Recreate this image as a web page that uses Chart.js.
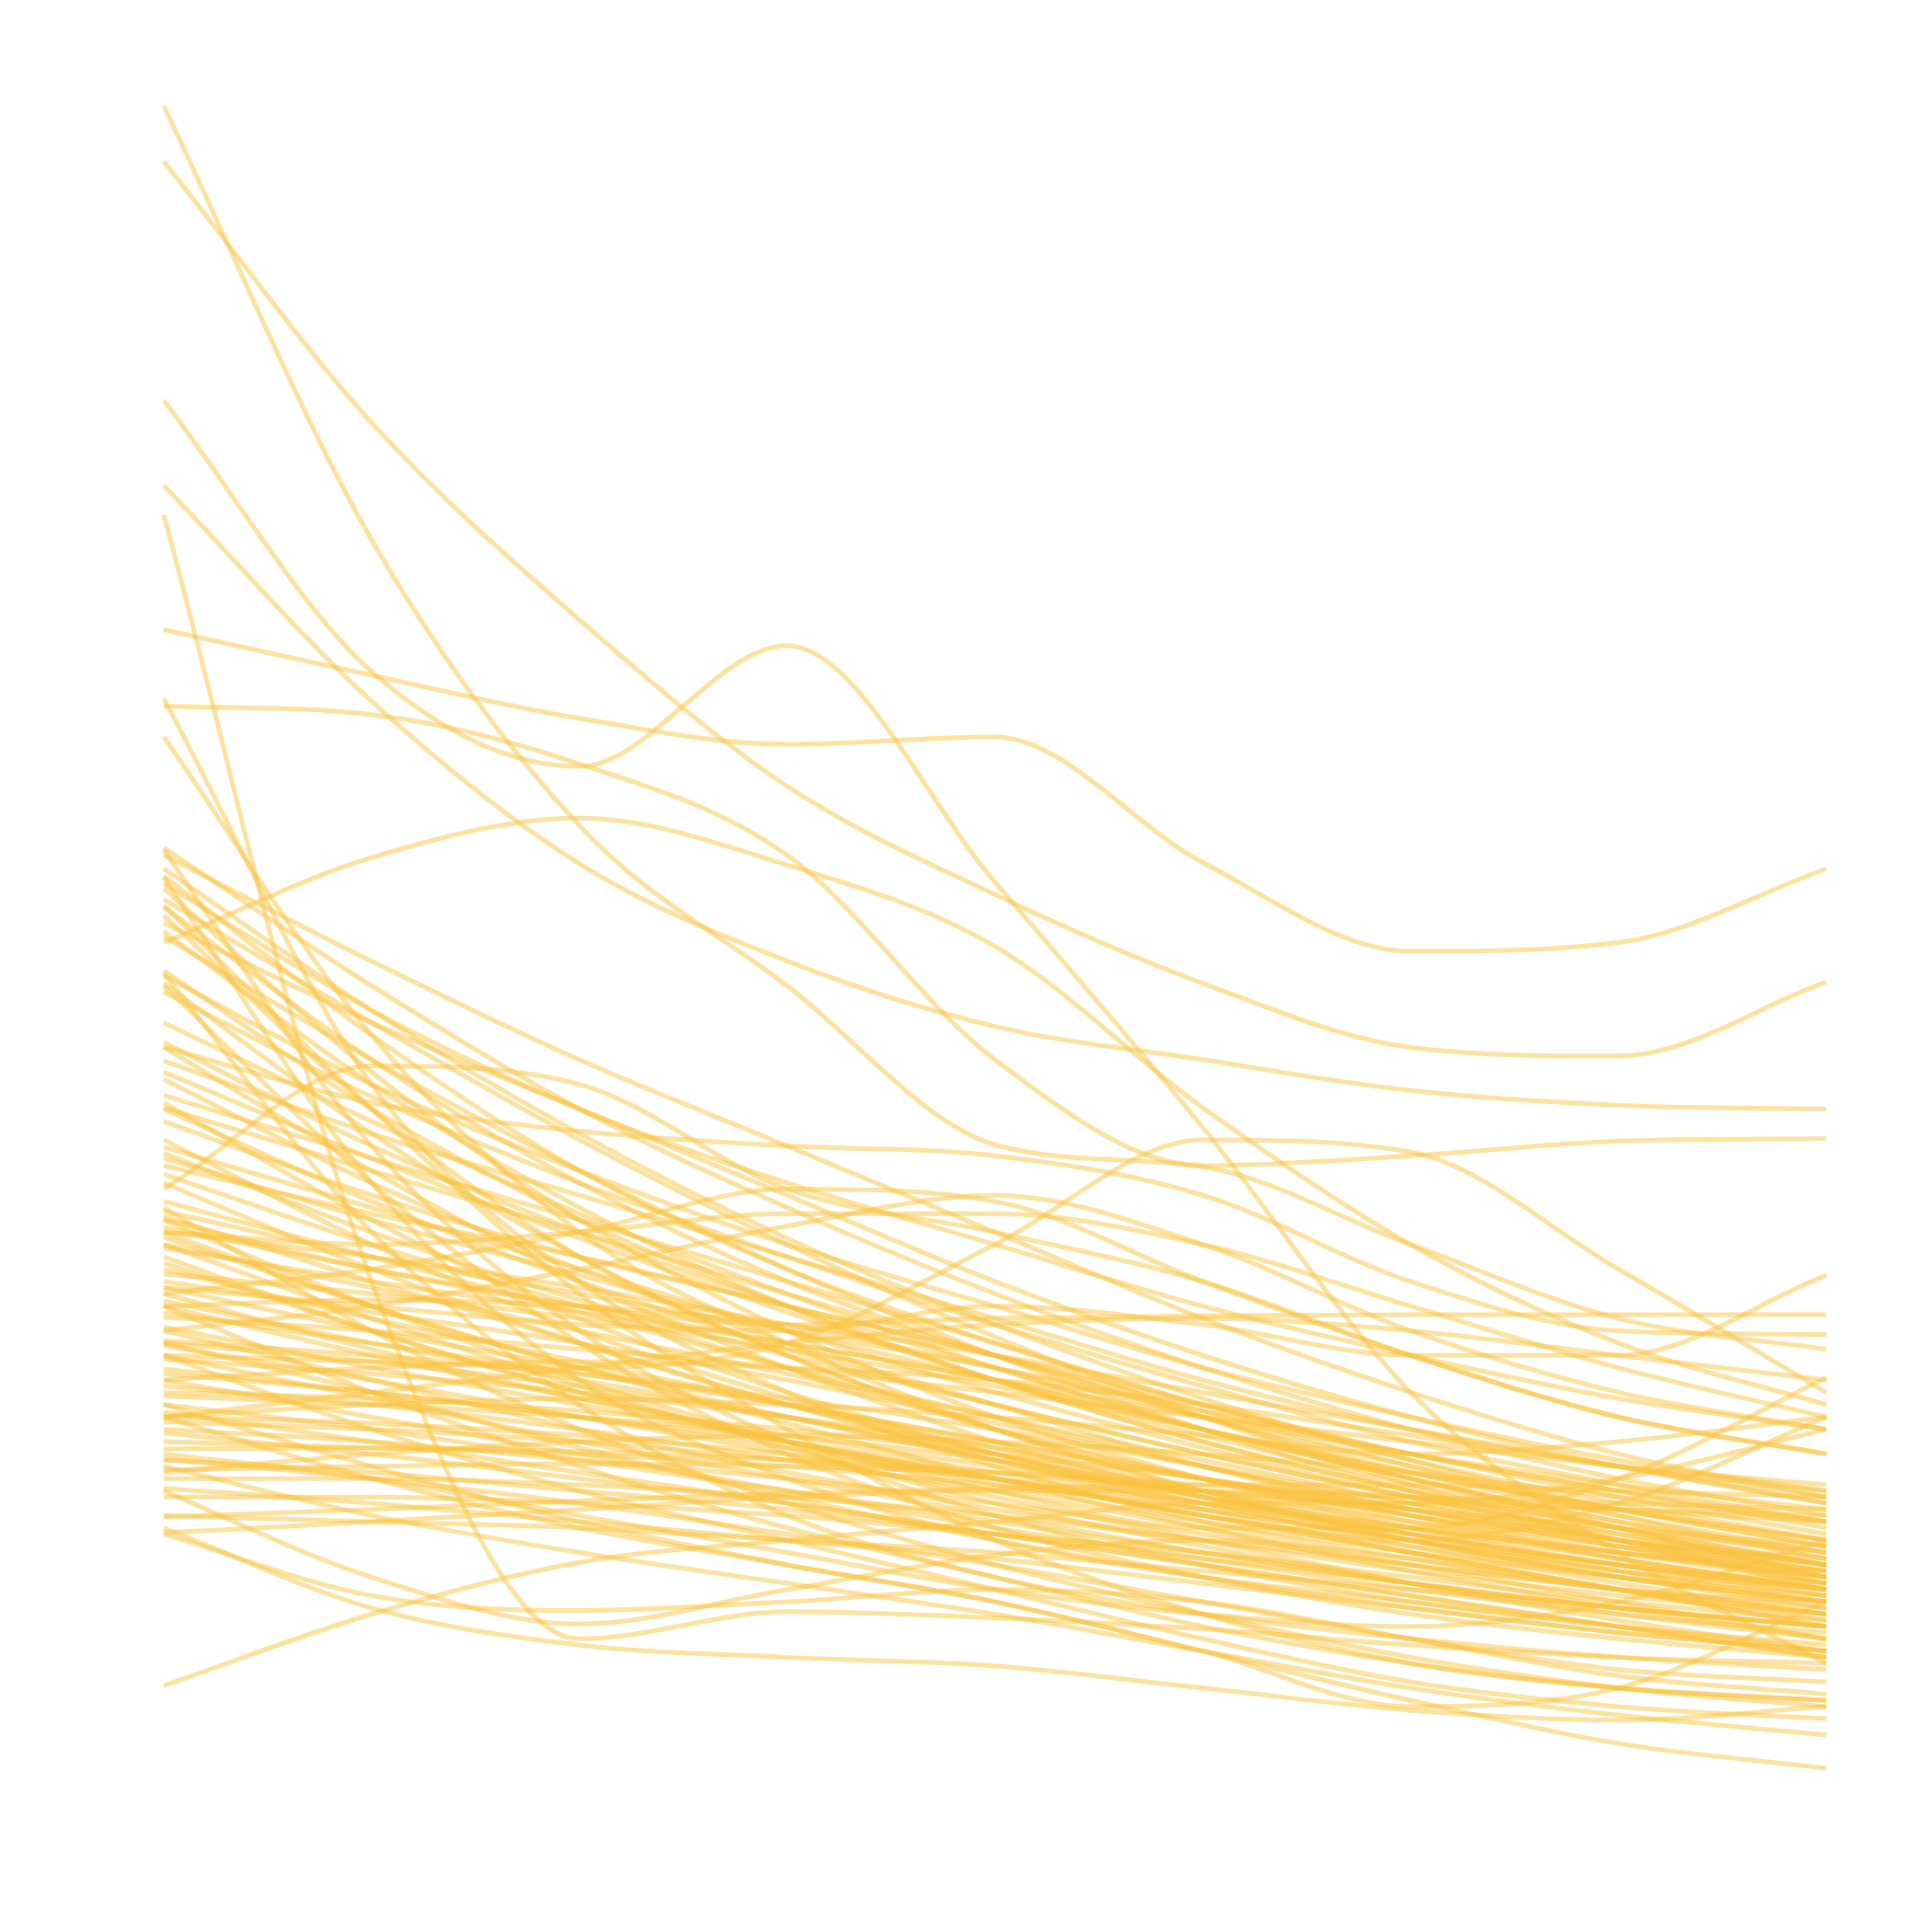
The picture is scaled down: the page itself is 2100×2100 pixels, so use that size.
<!DOCTYPE html>
<html>
<head>
<meta charset="utf-8">
<script src="https://cdn.jsdelivr.net/npm/chart.js@4.4.1/dist/chart.umd.min.js"></script>
<style>
  html, body { margin: 0; padding: 0; background: #ffffff; }
  #wrap { width: 2100px; height: 2100px; }
</style>
</head>
<body>
<div id="wrap"><canvas id="c" width="2100" height="2100"></canvas></div>
<script>
// categories (x positions of the sampled points)
const categories = ["0", "1", "2", "3", "4", "5", "6", "7", "8"];

// series values
const s01 = [13.64, 10.12, 7.80, 6.50, 5.21, 5.03, 4.40, 3.80, 3.55];
const s02 = [13.19, 11.07, 9.47, 8.12, 7.24, 6.52, 6.00, 5.93, 6.53];
const s03 = [11.25, 9.05, 8.28, 9.26, 7.34, 5.35, 3.20, 1.90, 1.00];
const s04 = [10.56, 8.81, 7.49, 6.70, 6.17, 5.90, 5.65, 5.53, 5.50];
const s05 = [10.32, 4.10, 1.20, 1.42, 1.37, 1.28, 1.15, 1.05, 1.00];
const s06 = [9.39, 9.02, 8.67, 8.46, 8.52, 7.50, 6.78, 6.85, 7.45];
const s07 = [8.77, 8.70, 8.30, 7.56, 5.90, 5.04, 5.12, 5.24, 5.26];
const s08 = [8.83, 5.70, 4.10, 3.20, 2.60, 2.15, 1.85, 1.60, 1.40];
const s09 = [8.52, 6.10, 4.50, 3.60, 2.90, 2.40, 2.00, 1.70, 1.50];
const s10 = [6.85, 7.54, 7.86, 7.48, 6.82, 5.51, 4.40, 3.60, 3.10];
const s11 = [6.00, 5.55, 5.32, 5.20, 5.12, 4.80, 4.10, 3.70, 3.67];
const s12 = [4.85, 5.85, 5.70, 4.85, 4.50, 4.10, 3.50, 3.00, 2.70];
const s13 = [3.50, 3.45, 3.40, 3.60, 4.40, 5.25, 5.15, 4.20, 3.20];
const s14 = [4.05, 3.90, 3.75, 3.70, 3.90, 3.75, 3.50, 3.50, 4.15];
const s15 = [4.60, 4.20, 3.90, 3.75, 3.80, 3.82, 3.83, 3.83, 3.83];
const s16 = [0.82, 1.40, 1.82, 2.00, 2.15, 2.30, 2.30, 2.25, 2.20];
const s17 = [3.00, 2.50, 2.10, 1.80, 1.50, 1.10, 0.70, 0.35, 0.15];
const s18 = [2.60, 2.20, 1.90, 1.65, 1.40, 1.10, 0.80, 0.58, 0.42];
const s19 = [2.10, 1.45, 1.15, 1.05, 0.98, 0.80, 0.62, 0.54, 0.65];
const s20 = [2.05, 1.55, 1.43, 1.50, 1.60, 1.50, 1.20, 0.90, 0.75];
const s21 = [2.40, 1.70, 1.32, 1.60, 1.88, 2.00, 1.85, 1.60, 1.50];
const s22 = [3.10, 2.60, 2.15, 1.80, 1.50, 1.10, 0.65, 0.80, 1.50];

const b01 = [7.62, 6.50, 5.50, 4.70, 4.00, 3.40, 2.90, 2.50, 2.20];
const b02 = [7.56, 6.70, 5.90, 5.20, 4.50, 3.80, 3.20, 2.70, 2.35];
const b03 = [7.39, 6.10, 5.00, 4.20, 3.60, 3.10, 2.70, 2.40, 2.10];
const b04 = [7.33, 6.30, 5.50, 4.90, 4.40, 3.90, 3.50, 3.15, 2.90];
const b05 = [7.29, 5.80, 4.60, 3.70, 3.00, 2.50, 2.10, 1.80, 1.60];
const b06 = [7.14, 5.90, 4.90, 4.10, 3.50, 3.00, 2.55, 2.20, 1.90];
const b07 = [7.07, 5.50, 4.30, 3.50, 2.90, 2.50, 2.20, 2.00, 1.85];
const b08 = [7.01, 6.20, 5.50, 4.80, 4.10, 3.50, 3.00, 2.60, 2.30];
const b09 = [6.94, 5.70, 4.70, 3.90, 3.30, 2.80, 2.40, 2.10, 1.80];
const b10 = [6.62, 5.50, 4.60, 3.90, 3.30, 2.80, 2.40, 2.10, 1.90];
const b11 = [6.58, 5.70, 5.00, 4.40, 3.90, 3.40, 3.00, 2.65, 2.40];
const b12 = [6.52, 5.30, 4.30, 3.50, 2.90, 2.40, 2.00, 1.70, 1.50];
const b13 = [6.45, 5.60, 4.90, 4.30, 3.75, 3.25, 2.80, 2.45, 2.15];
const b14 = [6.04, 5.20, 4.50, 3.90, 3.40, 2.90, 2.50, 2.15, 1.90];
const b15 = [6.00, 5.00, 4.10, 3.40, 2.80, 2.35, 2.00, 1.70, 1.45];
const b16 = [5.89, 5.30, 4.80, 4.30, 3.80, 3.30, 2.90, 2.60, 2.40];
const b17 = [5.74, 4.90, 4.20, 3.60, 3.10, 2.60, 2.20, 1.85, 1.60];
const b18 = [5.61, 5.10, 4.60, 4.10, 3.60, 3.10, 2.65, 2.30, 2.00];
const b19 = [5.55, 4.60, 3.80, 3.20, 2.70, 2.30, 2.00, 1.75, 1.60];
const b20 = [5.51, 5.00, 4.50, 4.00, 3.50, 3.00, 2.50, 2.10, 1.70];
const b21 = [5.40, 4.80, 4.30, 3.90, 3.50, 3.10, 2.70, 2.35, 2.05];
const b22 = [5.19, 4.70, 4.20, 3.70, 3.20, 2.75, 2.35, 2.00, 1.70];
const b23 = [5.14, 4.50, 3.95, 3.50, 3.10, 2.70, 2.35, 2.05, 1.80];
const b24 = [5.04, 4.65, 4.30, 3.90, 3.50, 3.05, 2.60, 2.20, 1.85];
const b25 = [4.97, 4.40, 3.90, 3.40, 2.90, 2.50, 2.15, 1.85, 1.60];
const b26 = [4.67, 4.30, 4.00, 3.70, 3.40, 3.05, 2.70, 2.40, 2.15];
const b27 = [4.63, 4.10, 3.60, 3.10, 2.65, 2.25, 1.90, 1.60, 1.35];
const b28 = [4.54, 4.20, 3.90, 3.60, 3.30, 2.90, 2.50, 2.10, 1.70];
const b29 = [4.46, 3.90, 3.40, 2.95, 2.50, 2.10, 1.75, 1.45, 1.20];
const b30 = [4.37, 4.10, 3.85, 3.60, 3.30, 3.00, 2.70, 2.45, 2.25];
const b31 = [4.20, 3.80, 3.45, 3.10, 2.75, 2.40, 2.05, 1.75, 1.50];
const b32 = [4.16, 4.00, 3.80, 3.55, 3.25, 2.90, 2.55, 2.25, 2.00];
const b33 = [4.05, 3.70, 3.40, 3.10, 2.80, 2.50, 2.20, 1.90, 1.65];
const b34 = [3.94, 3.60, 3.30, 3.00, 2.65, 2.30, 1.95, 1.65, 1.40];
const b35 = [3.81, 3.70, 3.55, 3.40, 3.20, 3.00, 2.80, 2.60, 2.45];
const b36 = [3.73, 3.40, 3.10, 2.80, 2.50, 2.20, 1.90, 1.60, 1.30];
const b37 = [3.62, 3.50, 3.35, 3.15, 2.90, 2.60, 2.30, 2.00, 1.75];
const b38 = [3.58, 3.30, 3.00, 2.70, 2.35, 2.00, 1.65, 1.35, 1.10];
const b39 = [3.47, 3.35, 3.20, 3.00, 2.75, 2.50, 2.25, 2.00, 1.80];
const b40 = [3.39, 3.20, 3.00, 2.75, 2.50, 2.20, 1.90, 1.60, 1.30];
const b41 = [3.25, 3.10, 2.90, 2.65, 2.40, 2.10, 1.80, 1.50, 1.20];
const b42 = [3.17, 3.10, 3.00, 2.85, 2.65, 2.40, 2.15, 1.90, 1.70];
const b43 = [3.04, 2.80, 2.55, 2.30, 2.05, 1.80, 1.55, 1.30, 1.05];
const b44 = [2.96, 2.90, 2.80, 2.65, 2.50, 2.30, 2.10, 1.90, 1.70];
const b45 = [2.87, 2.70, 2.50, 2.30, 2.05, 1.80, 1.55, 1.30, 1.05];
const b46 = [2.74, 2.75, 2.72, 2.65, 2.55, 2.40, 2.25, 2.10, 1.95];
const b47 = [2.66, 2.50, 2.30, 2.05, 1.80, 1.50, 1.20, 0.95, 0.85];
const b48 = [2.57, 2.60, 2.62, 2.60, 2.55, 2.45, 2.35, 2.25, 2.15];
const b49 = [2.42, 2.30, 2.15, 2.00, 1.85, 1.65, 1.45, 1.25, 1.10];
const b50 = [2.19, 2.25, 2.32, 2.38, 2.42, 2.45, 2.45, 2.40, 2.35];
const b51 = [2.06, 2.15, 2.25, 2.35, 2.40, 2.40, 2.35, 2.30, 2.25];
const b52 = [3.00, 3.20, 3.40, 3.60, 3.75, 3.80, 3.70, 3.50, 3.30];
const b53 = [4.60, 3.90, 3.30, 2.80, 2.40, 2.10, 2.10, 2.50, 3.32];
const b54 = [4.30, 3.70, 3.20, 2.80, 2.50, 2.20, 2.00, 2.30, 3.00];
const b55 = [2.70, 2.50, 2.20, 1.90, 1.60, 1.40, 1.30, 1.50, 2.00];
const b56 = [7.60, 5.20, 3.70, 2.80, 2.20, 1.80, 1.50, 1.30, 1.15];
const b57 = [7.38, 4.90, 3.30, 2.50, 2.00, 1.70, 1.50, 1.30, 1.10];
const b58 = [7.15, 5.50, 4.00, 2.90, 2.00, 1.40, 1.00, 0.80, 0.70];
const b59 = [6.60, 4.50, 3.10, 2.20, 1.70, 1.40, 1.20, 1.05, 0.95];
const b60 = [6.50, 4.90, 3.60, 2.70, 2.10, 1.70, 1.40, 1.20, 1.05];
const b61 = [3.50, 2.90, 2.40, 2.00, 1.60, 1.20, 0.85, 0.65, 0.55];
const b62 = [3.90, 3.20, 2.60, 2.10, 1.70, 1.30, 1.00, 0.80, 0.70];
const b63 = [4.70, 3.70, 2.90, 2.30, 1.80, 1.40, 1.05, 0.80, 0.65];
const w01 = [4.00, 4.20, 4.50, 4.85, 4.75, 4.10, 3.50, 3.00, 2.70];
const w02 = [3.70, 3.90, 4.20, 4.55, 4.80, 4.40, 3.70, 3.20, 2.90];
const w03 = [4.50, 4.40, 4.50, 4.65, 4.65, 4.40, 3.90, 3.40, 3.00];

const n01 = [5.50, 4.75, 4.10, 3.55, 3.10, 2.70, 2.35, 2.05, 1.80];
const n02 = [5.25, 4.40, 3.70, 3.15, 2.70, 2.35, 2.05, 1.80, 1.60];
const n03 = [5.10, 4.60, 4.15, 3.70, 3.30, 2.90, 2.55, 2.25, 2.00];
const n04 = [4.90, 4.20, 3.60, 3.10, 2.70, 2.35, 2.05, 1.80, 1.60];
const n05 = [4.75, 4.30, 3.85, 3.40, 3.00, 2.60, 2.25, 1.95, 1.70];
const n06 = [4.50, 3.90, 3.40, 3.00, 2.65, 2.35, 2.10, 1.90, 1.75];
const n07 = [4.40, 4.05, 3.70, 3.35, 3.00, 2.65, 2.30, 2.00, 1.75];
const n08 = [4.25, 3.70, 3.20, 2.80, 2.45, 2.15, 1.90, 1.70, 1.55];
const n09 = [4.10, 3.85, 3.60, 3.30, 2.95, 2.60, 2.25, 1.95, 1.65];
const n10 = [4.00, 3.55, 3.15, 2.80, 2.50, 2.20, 1.95, 1.70, 1.50];
const n11 = [3.85, 3.60, 3.35, 3.10, 2.80, 2.50, 2.20, 1.95, 1.75];
const n12 = [3.70, 3.30, 2.90, 2.55, 2.25, 2.00, 1.75, 1.55, 1.40];
const n13 = [3.60, 3.45, 3.25, 3.00, 2.70, 2.40, 2.10, 1.85, 1.60];
const n14 = [3.50, 3.15, 2.80, 2.50, 2.20, 1.90, 1.65, 1.45, 1.30];
const n15 = [3.35, 3.20, 3.00, 2.80, 2.55, 2.30, 2.05, 1.80, 1.55];
const n16 = [3.30, 3.00, 2.70, 2.40, 2.10, 1.85, 1.60, 1.40, 1.25];
const n17 = [3.20, 3.15, 3.05, 2.90, 2.70, 2.50, 2.25, 2.00, 1.80];
const n18 = [3.10, 2.90, 2.65, 2.40, 2.15, 1.90, 1.65, 1.45, 1.30];
const n19 = [3.00, 2.95, 2.85, 2.70, 2.50, 2.25, 2.00, 1.75, 1.55];
const n20 = [2.90, 2.80, 2.65, 2.50, 2.30, 2.05, 1.80, 1.60, 1.40];
const n21 = [2.80, 2.75, 2.70, 2.60, 2.45, 2.25, 2.00, 1.80, 1.65];
const n22 = [2.65, 2.55, 2.40, 2.25, 2.05, 1.85, 1.65, 1.45, 1.30];
const n23 = [2.50, 2.50, 2.45, 2.35, 2.20, 2.00, 1.80, 1.60, 1.45];
const n24 = [2.35, 2.35, 2.30, 2.20, 2.05, 1.90, 1.70, 1.50, 1.35];
const n25 = [2.55, 2.70, 2.80, 2.85, 2.80, 2.70, 2.55, 2.35, 2.15];
const n26 = [3.30, 3.40, 3.45, 3.40, 3.30, 3.10, 2.85, 2.60, 2.35];
const n27 = [3.90, 3.95, 3.90, 3.75, 3.50, 3.20, 2.90, 2.60, 2.30];
const n28 = [4.50, 4.30, 4.05, 3.75, 3.40, 3.00, 2.60, 2.25, 1.95];
const n29 = [5.80, 5.10, 4.45, 3.85, 3.30, 2.85, 2.45, 2.10, 1.80];
const n30 = [6.20, 5.40, 4.65, 4.00, 3.40, 2.90, 2.50, 2.15, 1.85];
const n31 = [6.90, 5.90, 5.00, 4.20, 3.50, 2.90, 2.40, 2.00, 1.65];
const n32 = [7.20, 6.20, 5.25, 4.40, 3.65, 3.00, 2.45, 2.00, 1.60];
const n33 = [7.45, 6.30, 5.30, 4.45, 3.75, 3.15, 2.65, 2.25, 1.95];
const n34 = [2.20, 2.15, 2.10, 2.00, 1.90, 1.75, 1.60, 1.45, 1.30];
const n35 = [3.60, 3.20, 2.75, 2.35, 2.00, 1.70, 1.45, 1.25, 1.10];
const n36 = [4.40, 3.80, 3.25, 2.75, 2.30, 1.95, 1.65, 1.40, 1.20];
const n37 = [3.00, 3.10, 3.15, 3.10, 3.00, 2.85, 2.70, 2.80, 3.00];
const n38 = [3.90, 3.50, 3.15, 2.85, 2.60, 2.40, 2.30, 2.50, 2.90];

const seriesList = [
  s01, s02, s03, s04, s05, s06, s07, s08, s09, s10, s11, s12, s13, s14, s15,
  s16, s17, s18, s19, s20, s21, s22,
  b01, b02, b03, b04, b05, b06, b07, b08, b09, b10, b11, b12, b13, b14, b15,
  b16, b17, b18, b19, b20, b21, b22, b23, b24, b25, b26, b27, b28, b29, b30,
  b31, b32, b33, b34, b35, b36, b37, b38, b39, b40, b41, b42, b43, b44, b45,
  b46, b47, b48, b49, b50, b51, b52, b53, b54, b55, b56, b57, b58, b59, b60,
  b61, b62, b63, w01, w02, w03,
  n01, n02, n03, n04, n05, n06, n07, n08, n09, n10, n11, n12, n13, n14, n15,
  n16, n17, n18, n19, n20, n21, n22, n23, n24, n25, n26, n27, n28, n29, n30,
  n31, n32, n33, n34, n35, n36, n37, n38
];

const lineColor = "rgba(252, 196, 64, 0.5)";

const datasets = seriesList.map(function (vals, i) {
  return {
    label: "series " + (i + 1),
    data: vals,
    borderColor: lineColor,
    borderWidth: 5,
    pointRadius: 0,
    fill: false,
    cubicInterpolationMode: "monotone"
  };
});

new Chart(document.getElementById("c"), {
  type: "line",
  data: { labels: categories, datasets: datasets },
  options: {
    responsive: false,
    devicePixelRatio: 1,
    animation: false,
    layout: { padding: { left: 178, right: 115, top: 67, bottom: 158 } },
    plugins: { legend: { display: false }, tooltip: { enabled: false } },
    scales: {
      x: { display: false, offset: false },
      y: { display: false, min: 0, max: 14 }
    }
  }
});
</script>
</body>
</html>
